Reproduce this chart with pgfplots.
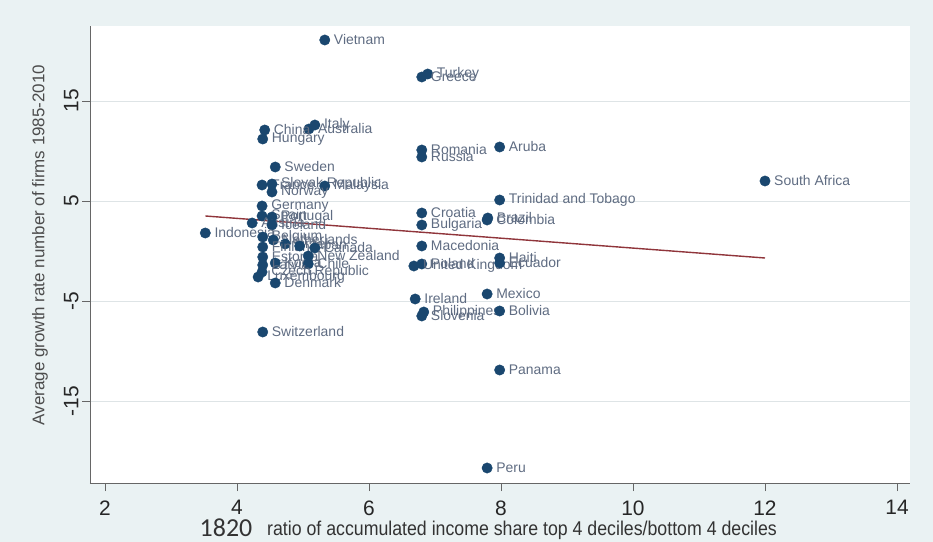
\documentclass[border=0pt]{standalone}
\usepackage{fontspec}
\setmainfont{Liberation Sans}
\newfontfamily\carlito{Carlito}
\usepackage{pgfplots}
\usepackage{pgfplotstable}
\pgfplotsset{compat=1.18}
\definecolor{bg}{RGB}{234,242,243}
\definecolor{stnavy}{RGB}{26,71,111}
\definecolor{stmaroon}{RGB}{144,53,59}
\definecolor{labgray}{RGB}{95,108,130}
\definecolor{gridc}{RGB}{222,228,230}

\pgfplotstableread[col sep=comma]{
x,y,label
5.33,21.1,Vietnam
6.89,17.7,Turkey
6.80,17.4,Greece
5.18,12.6,Italy
5.09,12.2,Australia
4.42,12.1,China
4.39,11.2,Hungary
6.80,10.1,Romania
6.80,9.4,Russia
7.98,10.4,Aruba
4.58,8.4,Sweden
4.38,6.6,France
4.53,6.7,Slovak Republic
5.33,6.5,Malaysia
4.53,5.9,Norway
4.38,4.5,Germany
4.38,3.5,Spain
4.53,3.4,Portugal
4.23,2.8,Austria
4.53,2.6,Iceland
3.52,1.8,Indonesia
4.39,1.4,Belgium
4.55,1.1,Netherlands
4.73,0.7,Israel
4.39,0.4,Finland
4.95,0.5,Japan
5.18,0.3,Canada
4.39,-0.6,Estonia
5.08,-0.5,New Zealand
4.58,-1.2,Korea
4.39,-1.4,Latvia
5.08,-1.3,Chile
4.38,-2.1,Czech Republic
4.32,-2.6,Luxembourg
4.58,-3.2,Denmark
6.80,3.8,Croatia
6.80,2.6,Bulgaria
7.80,3.3,Brazil
7.79,3.1,Colombia
7.98,5.1,Trinidad and Tobago
6.80,0.5,Macedonia
6.80,-1.3,Poland
6.68,-1.5,United Kingdom
7.98,-0.7,Haiti
7.98,-1.2,Ecuador
6.70,-4.8,Ireland
7.79,-4.3,Mexico
6.83,-6.1,Philippines
6.80,-6.5,Slovenia
7.98,-6.0,Bolivia
4.39,-8.1,Switzerland
7.98,-11.9,Panama
7.79,-21.7,Peru
12.0,7.0,South Africa
}\countries

\begin{document}
\begin{tikzpicture}
\fill[bg] (-90bp,-59bp) rectangle (843bp,483bp);
\begin{axis}[
  scale only axis, width=820bp, height=457bp,
  xmin=1.773, xmax=14.197, ymin=-23.2, ymax=22.5,
  axis background/.style={fill=white},
  axis x line*=bottom, axis y line*=left,
  axis line style={draw=black!60, line width=1pt},
  xtick={2,4,...,14}, ytick={-15,-5,5,15},
  tick align=outside, tick style={black!60, line width=0.8pt},
  major tick length=8bp,
  ymajorgrids, grid style={gridc, line width=0.8pt},
  tick label style={font=\fontsize{21}{24}\selectfont, text=black!85},
  /pgf/number format/assume math mode=true,
  xticklabel style={yshift=-6bp},
  yticklabel style={rotate=90, anchor=south},
]
\addplot[only marks, mark=*, mark size=5.2bp,
  mark options={fill=stnavy, draw=stnavy},
  nodes near coords, point meta=explicit symbolic,
  every node near coord/.style={anchor=west, xshift=9bp, inner sep=0pt,
    text=labgray, font=\fontsize{14}{14}\selectfont}]
  table[x=x, y=y, meta=label] {\countries};
\addplot[stmaroon, line width=1.4pt] coordinates {(3.52,3.5) (12,-0.7)};
\end{axis}
\node[rotate=90, font=\fontsize{17}{17}\selectfont, text=black!70] at (-50bp,238bp)
  {Average growth rate number of firms 1985-2010};
\node[font=\fontsize{20}{20}\selectfont, text=black!80] at (432bp,-47bp)
  {\scalebox{0.89}[1]{ratio of accumulated income share top 4 deciles/bottom 4 deciles}};
\node[font=\carlito\fontsize{26}{26}\selectfont, text=black!80, inner sep=0pt] at (136bp,-45bp) {1820};
\pgfresetboundingbox
\useasboundingbox (-90bp,-59bp) rectangle (843bp,483bp);
\end{tikzpicture}
\end{document}
